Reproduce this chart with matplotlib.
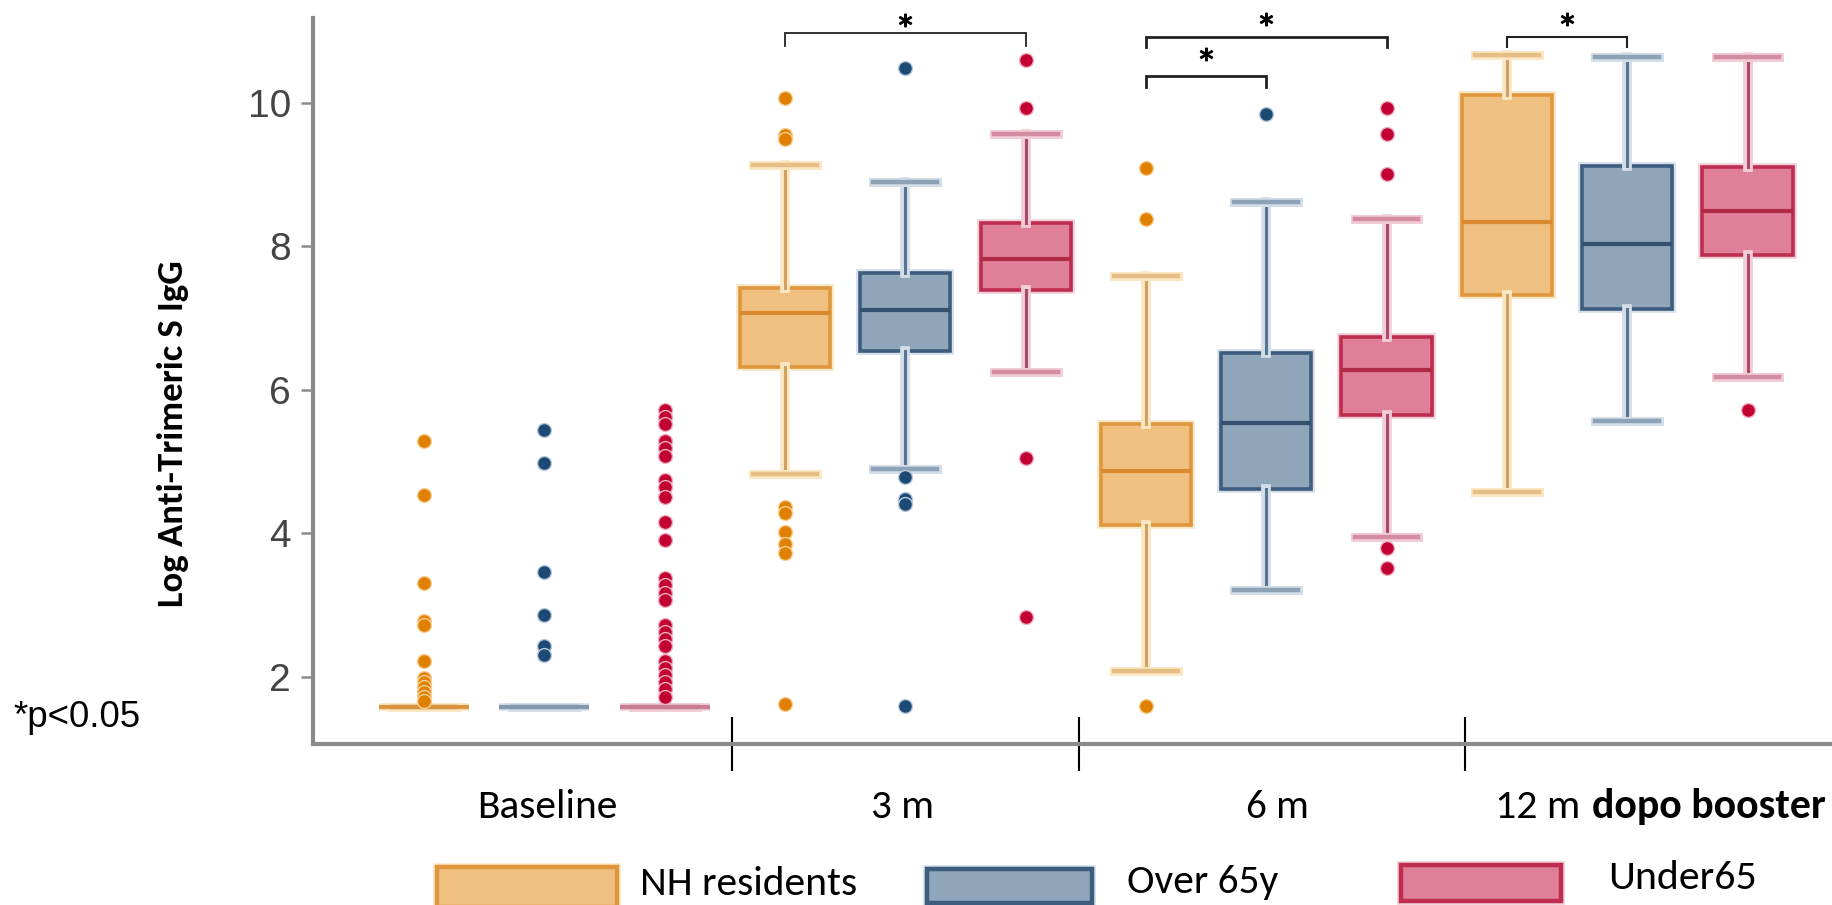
import numpy as np
import matplotlib
matplotlib.use("Agg")
import matplotlib.pyplot as plt
import matplotlib.patheffects as pe
from matplotlib.patches import Rectangle
from matplotlib import font_manager as fm

# ---------------- data ----------------
timepoints = ["Baseline", "3 m", "6 m", "12 m"]
series_names = ["NH residents", "Over 65y", "Under65"]

nh_q1 = [1.58, 6.32, 4.11, 7.32]
nh_med = [1.58, 7.07, 4.86, 8.33]
nh_q3 = [1.58, 7.42, 5.52, 10.10]
nh_lo = [1.58, 4.82, 2.08, 4.57]
nh_hi = [1.58, 9.13, 7.59, 10.67]
nh_out = [[5.29, 4.53, 3.31, 2.78, 2.72, 2.21, 1.98, 1.92, 1.85, 1.78, 1.72, 1.66],
          [10.07, 9.55, 9.50, 4.37, 4.28, 4.02, 3.85, 3.72, 1.62],
          [9.09, 8.38, 1.59],
          []]

over_q1 = [1.58, 6.54, 4.61, 7.12]
over_med = [1.58, 7.11, 5.53, 8.03]
over_q3 = [1.58, 7.62, 6.51, 9.12]
over_lo = [1.58, 4.90, 3.20, 5.56]
over_hi = [1.58, 8.89, 8.62, 10.64]
over_out = [[5.44, 4.97, 3.46, 2.86, 2.42, 2.30],
            [10.48, 4.78, 4.48, 4.40, 1.59],
            [9.84],
            []]

under_q1 = [1.58, 7.39, 5.65, 7.87]
under_med = [1.58, 7.82, 6.28, 8.49]
under_q3 = [1.58, 8.32, 6.73, 9.10]
under_lo = [1.58, 6.24, 3.95, 6.17]
under_hi = [1.58, 9.56, 8.38, 10.64]
under_out = [[5.72, 5.62, 5.52, 5.28, 5.18, 5.08, 4.74, 4.64, 4.50, 4.16, 3.90,
              3.38, 3.28, 3.17, 3.07, 2.72, 2.62, 2.52, 2.42, 2.22, 2.12, 2.02,
              1.92, 1.82, 1.72],
             [10.60, 9.92, 5.05, 2.83],
             [9.93, 9.56, 9.00, 3.79, 3.51],
             [5.71]]

# significance comparisons
sig_time = [1, 2, 2, 3]
sig_a = [0, 0, 0, 0]
sig_b = [2, 2, 1, 1]
sig_top = [10.97, 10.92, 10.37, 10.92]
sig_leg = [10.79, 10.78, 10.22, 10.78]
sig_star = [11.15, 11.165, 10.68, 11.165]

y_ticks = [2, 4, 6, 8, 10]

# ---------------- styling ----------------
styles = [
    dict(fill="#F0C080", edge="#E0963C", med="#D98A30", whisk="#D2A060",
         halo="#FBE7C4", cap="#E6BE86", flier="#E08000", fhalo="#F7CF95",
         base="#DA9440"),
    dict(fill="#8FA5BA", edge="#3E5C7D", med="#34506E", whisk="#587490",
         halo="#D3DEE8", cap="#8CA2B6", flier="#1D4A74", fhalo="#B9CADA",
         base="#8498AC"),
    dict(fill="#E08098", edge="#BE2D50", med="#B02A48", whisk="#A84A68",
         halo="#F1CDD7", cap="#D38CA2", flier="#C30032", fhalo="#EDAFC0",
         base="#C97D95"),
]
stats_all = [
    (nh_q1, nh_med, nh_q3, nh_lo, nh_hi, nh_out),
    (over_q1, over_med, over_q3, over_lo, over_hi, over_out),
    (under_q1, under_med, under_q3, under_lo, under_hi, under_out),
]

avail = {f.name for f in fm.fontManager.ttflist}
def pick(*names):
    for n in names:
        if n in avail:
            return n
    return "DejaVu Sans"
NARROW = pick("Carlito", "Liberation Sans Narrow", "Lato", "Open Sans")
ARIAL = pick("Liberation Sans", "Arimo", "DejaVu Sans")

W, H = 1833, 905
fig = plt.figure(figsize=(W / 100, H / 100), dpi=100)
ax = fig.add_axes([313 / W, 1 - 744 / H, 1 - 313 / W, (744 - 18) / H])

n_series = len(series_names)
for g, (q1, med, q3, lo, hi, out) in enumerate(stats_all):
    st = styles[g]
    bstats = []
    for t in range(len(timepoints)):
        bstats.append(dict(med=med[t], q1=q1[t], q3=q3[t], whislo=lo[t],
                           whishi=hi[t], fliers=np.array(out[t], dtype=float)))
    pos = [t * n_series + g for t in range(len(timepoints))]
    res = ax.bxp(bstats, positions=pos, widths=0.75, capwidths=0.53,
                 patch_artist=True, manage_ticks=False,
                 boxprops=dict(facecolor=st["fill"], edgecolor=st["edge"], linewidth=2.6),
                 medianprops=dict(color=st["med"], linewidth=3.0),
                 whiskerprops=dict(color=st["whisk"], linewidth=2.2),
                 capprops=dict(color=st["cap"], linewidth=3.2),
                 flierprops=dict(marker="o", markerfacecolor=st["flier"],
                                 markeredgecolor=st["fhalo"], markeredgewidth=1.0,
                                 markersize=10, linestyle="none"))
    for w in res["whiskers"]:
        w.set_path_effects([pe.Stroke(linewidth=7, foreground=st["halo"]), pe.Normal()])
    for c in res["caps"]:
        c.set_path_effects([pe.Stroke(linewidth=6.5, foreground=st["halo"]), pe.Normal()])
    for t, b in enumerate(res["boxes"]):
        b.set_path_effects([pe.Stroke(linewidth=5.5, foreground=st["halo"]), pe.Normal()])
        if q1[t] == q3[t]:
            # collapsed box (all values at detection floor): drawn as a pale line
            b.set_edgecolor(st["base"])
            res["medians"][t].set_color(st["base"])
            res["caps"][2 * t].set_color(st["base"])
            res["caps"][2 * t + 1].set_color(st["base"])
    for f in res["fliers"]:
        f.set_zorder(4)

# axes
ax.set_xlim(-0.923, 11.71)
ax.set_ylim(1.06, 11.18)
for s in ["top", "right"]:
    ax.spines[s].set_visible(False)
for s in ["left", "bottom"]:
    ax.spines[s].set_color("#8a8a8a")
    ax.spines[s].set_linewidth(3)
ax.set_yticks(y_ticks)
ax.set_yticklabels([str(v) for v in y_ticks], fontfamily=ARIAL)
ax.tick_params(axis="y", length=9, width=1.8, color="#8a8a8a", labelsize=28,
               labelcolor="#444444", pad=7)
ax.set_xticks([2.56, 5.44, 8.65])
ax.tick_params(axis="x", direction="inout", length=39, width=1.5, color="black",
               labelbottom=False)

# significance brackets
lws = [1.3, 2.0, 2.0, 1.5]
for i in range(len(sig_time)):
    xa = sig_time[i] * n_series + sig_a[i]
    xb = sig_time[i] * n_series + sig_b[i]
    ax.plot([xa, xa, xb, xb], [sig_leg[i], sig_top[i], sig_top[i], sig_leg[i]],
            color="#222222", lw=lws[i], clip_on=False, solid_joinstyle="miter")
    ax.plot([(xa + xb) / 2], [sig_star[i]], marker="$*$", ms=9, color="black",
            clip_on=False, linestyle="none")

renderer = fig.canvas.get_renderer()
def fit(t, target, dim="w"):
    bb = t.get_window_extent(renderer)
    cur = bb.width if dim == "w" else bb.height
    t.set_fontsize(t.get_fontsize() * target / cur)

def fx(px):
    return px / W
def fy(py):
    return 1 - py / H

# category labels
base_y = fy(818)
cat_x = [547, 903, 1277]
cat_w = [141, 63, 63]
for lab, xc, wd in zip(timepoints[:3], cat_x, cat_w):
    t = fig.text(fx(xc), base_y, lab, ha="center", va="baseline", family=NARROW, fontsize=26)
    fit(t, wd)
t1 = fig.text(fx(1495), base_y, timepoints[3], ha="left", va="baseline", family=NARROW, fontsize=26)
fit(t1, 85)
t2 = fig.text(fx(1592), base_y, "dopo booster", ha="left", va="baseline", family=NARROW,
              fontweight="bold", fontsize=26)
fit(t2, 235)

# y label
yl = fig.text(fx(173), fy(434), "Log Anti-Trimeric S IgG", rotation=90, ha="center",
              va="center", family=NARROW, fontweight="bold", fontsize=20)
fit(yl, 347, "h")

# p-value note
pn = fig.text(fx(13), fy(727), "*p<0.05", ha="left", va="baseline", family=ARIAL, fontsize=24)
fit(pn, 127)

# legend
leg_boxes = [(437, 867, 617, 907), (927, 869, 1092, 903), (1401, 865, 1561, 901)]
leg_text = [(640, 895, 217), (1127, 893, 151), (1608, 889, 149)]
for g in range(n_series):
    x0, y0, x1, y1 = leg_boxes[g]
    st = styles[g]
    r = Rectangle((fx(x0), fy(y1)), (x1 - x0) / W, (y1 - y0) / H, transform=fig.transFigure,
                  facecolor=st["fill"], edgecolor=st["edge"], linewidth=3.2, clip_on=False)
    r.set_path_effects([pe.Stroke(linewidth=5.5, foreground=st["halo"]), pe.Normal()])
    fig.add_artist(r)
    tx, ty, tw = leg_text[g]
    t = fig.text(fx(tx), fy(ty), series_names[g], ha="left", va="baseline", family=NARROW, fontsize=30)
    fit(t, tw)

fig.savefig("out.png", dpi=100)
